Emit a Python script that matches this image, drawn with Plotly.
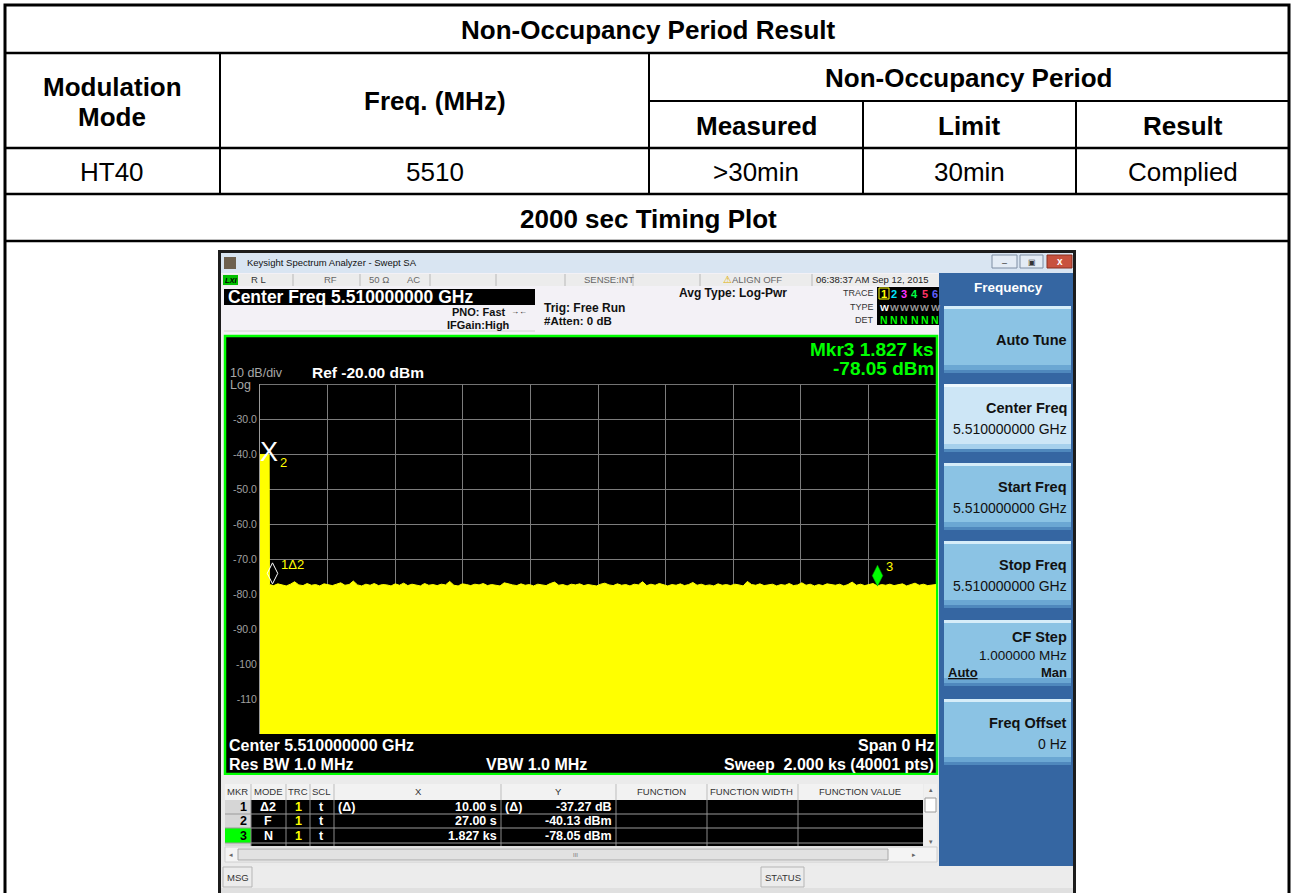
import numpy as np
import plotly.graph_objects as go

W, H = 1292, 893
FONT = "Liberation Sans, Arial, Helvetica, sans-serif"

# ---------------- data ----------------
table_title = "Non-Occupancy Period Result"
header_mode = ["Modulation", "Mode"]
header_freq = "Freq. (MHz)"
header_nop = "Non-Occupancy Period"
sub_headers = ["Measured", "Limit", "Result"]
row_values = ["HT40", "5510", ">30min", "30min", "Complied"]
plot_title = "2000 sec Timing Plot"

sweep_time_s = 2000
ref_level_dbm = -20
bottom_dbm = -120
y_tick_vals = [-30, -40, -50, -60, -70, -80, -90, -100, -110]
y_tick_text = ["-30.0", "-40.0", "-50.0", "-60.0", "-70.0", "-80.0", "-90.0", "-100", "-110"]

burst_t = [0, 27]
burst_y = [-40.13, -40.13]
noise_y = [
    -77.3, -77.6, -77.1, -77.5, -77.7, -77.2, -76.5, -77.4, -77.6, -77.0,
    -77.5, -77.3, -77.7, -77.1, -77.4, -77.6, -77.2, -76.8, -77.5, -77.3,
    -76.3, -77.4, -77.7, -77.2, -77.5, -77.0, -77.6, -77.3, -77.4, -77.7,
    -77.1, -77.5, -76.9, -77.6, -77.2, -77.4, -77.7, -77.0, -77.5, -77.3,
    -77.6, -77.2, -77.4, -76.4, -77.5, -77.7, -77.1, -77.3, -77.6, -77.2,
    -77.4, -77.0, -77.6, -77.3, -77.5, -77.7, -76.8, -77.2, -77.4, -77.6,
    -77.1, -77.5, -77.3, -77.7, -77.2, -77.4, -77.6, -77.0, -76.6, -77.5,
    -77.3, -77.7, -77.2, -77.4, -77.1, -77.6, -77.3, -77.5, -77.7, -77.2,
    -76.9, -77.4, -77.6, -77.1, -77.5, -77.3, -77.7, -77.2, -77.4, -76.5,
    -77.6, -77.2, -77.5, -77.0, -77.4, -77.7, -77.3, -77.5, -77.1, -77.6,
    -77.3, -76.7, -77.5, -77.2, -77.6, -77.4, -77.7, -77.1, -77.5, -77.3,
    -77.6, -77.2, -77.4, -77.7, -76.4, -77.3, -77.5, -77.1, -77.6, -77.4,
    -77.2, -77.7, -77.3, -77.5, -77.0, -77.6, -77.4, -76.8, -77.5, -77.2,
    -77.7, -77.3, -77.6, -77.1, -77.4, -77.5, -77.2, -77.7, -77.3, -76.6,
    -77.5, -77.2, -77.6, -77.4, -77.0, -77.7, -77.3, -77.5, -77.2, -77.6,
    -77.4, -77.1, -77.7, -77.3, -76.9, -77.5, -77.2, -77.6, -77.4, -77.3,
]
noise_t = np.linspace(28, sweep_time_s, len(noise_y))

mkr_id = ["1", "2", "3"]
mkr_mode = ["\u03942", "F", "N"]
mkr_t = [37.0, 27.0, 1827.0]
mkr_y = [-77.40, -40.13, -78.05]
mkr_x_text = ["10.00 s", "27.00 s", "1.827 ks"]
mkr_y_text = ["-37.27 dB", "-40.13 dBm", "-78.05 dBm"]

softkey_labels = ["Auto Tune", "Center Freq", "Start Freq", "Stop Freq", "CF Step", "Freq Offset"]
softkey_values = ["", "5.510000000 GHz", "5.510000000 GHz", "5.510000000 GHz", "1.000000 MHz", "0 Hz"]

trace_digits = ["1", "2", "3", "4", "5", "6"]

# ---------------- helpers ----------------
shapes = []
annotations = []


def X(p):
    return p / W


def Y(p):
    return 1 - p / H


def rect(x0, y0, x1, y1, fill=None, line=None, lw=1, layer="below"):
    shapes.append(dict(type="rect", xref="paper", yref="paper",
                       x0=X(x0), x1=X(x1), y0=Y(y1), y1=Y(y0),
                       fillcolor=fill if fill else "rgba(0,0,0,0)",
                       line=dict(color=line if line else "rgba(0,0,0,0)", width=lw if line else 0),
                       layer=layer))


def seg(x0, y0, x1, y1, color="black", lw=1, layer="below"):
    shapes.append(dict(type="line", xref="paper", yref="paper",
                       x0=X(x0), x1=X(x1), y0=Y(y0), y1=Y(y1),
                       line=dict(color=color, width=lw), layer=layer))


def txt(x, y, s, size, color="black", bold=False, anchor="left", family=FONT):
    annotations.append(dict(xref="paper", yref="paper", x=X(x), y=Y(y),
                            text=("<b>%s</b>" % s) if bold else s, showarrow=False,
                            xanchor=anchor, yanchor="middle", borderpad=0,
                            font=dict(size=size, color=color, family=family)))


# ---------------- report table ----------------
TS = 26
rect(5, 5, 1289, 900, line="black", lw=3)
seg(5, 53, 1289, 53, lw=2.5)
seg(649, 101, 1289, 101, lw=2)
seg(5, 148, 1289, 148, lw=2.5)
seg(5, 194, 1289, 194, lw=2.5)
seg(5, 241, 1289, 241, lw=2.5)
seg(220, 53, 220, 194, lw=2)
seg(649, 53, 649, 194, lw=2)
seg(863, 101, 863, 194, lw=2)
seg(1076, 101, 1076, 194, lw=2)

txt(648, 30, table_title, TS, bold=True, anchor="center")
txt(112, 87, header_mode[0], TS, bold=True, anchor="center")
txt(112, 117, header_mode[1], TS, bold=True, anchor="center")
txt(435, 101, header_freq, TS, bold=True, anchor="center")
txt(969, 78, header_nop, TS, bold=True, anchor="center")
for cx, s in zip([756, 969, 1183], sub_headers):
    txt(cx, 126, s, TS, bold=True, anchor="center")
for cx, s in zip([112, 435, 756, 969, 1183], row_values):
    txt(cx, 172, s, TS, anchor="center")
txt(648, 219, plot_title, TS, bold=True, anchor="center")

# ---------------- analyzer screenshot ----------------
rect(218, 250, 1076, 893, fill="#1c1c1c")
rect(221, 273, 1073, 893, fill="#f3f1f6")
# title bar
rect(221, 253, 1073, 273, fill="#d9e5f2")
rect(224, 257, 236, 269, fill="#6e6150")
txt(246, 263, "Keysight Spectrum Analyzer - Swept SA", 9.5, color="#111")
rect(992, 255, 1017, 268, fill="#e4ecf5", line="#7f8ea3")
txt(1004.5, 263, "\u2013", 9, color="#333", anchor="center")
rect(1020, 255, 1043, 268, fill="#e4ecf5", line="#7f8ea3")
txt(1031.5, 262, "\u25a3", 8, color="#333", anchor="center")
rect(1047, 255, 1072, 268, fill="#c8523e", line="#8a3020")
txt(1059.5, 261.5, "<b>x</b>", 10, color="white", anchor="center")

# status row
rect(221, 274, 1073, 286, fill="#ececec")
for sx in [293, 360, 430, 496, 565, 633, 700, 812, 940]:
    seg(sx, 274, sx, 286, color="#b8b8b8")
rect(223, 275, 238, 285, fill="#00c000")
txt(224, 280, "<i>LXI</i>", 7.5, color="black", bold=True)
txt(250, 279.5, "R L", 9.5, color="#333")
txt(323, 279.5, "RF", 9.5, color="#666")
txt(368, 279.5, "50 \u03a9", 9.5, color="#666")
txt(406, 279.5, "AC", 9.5, color="#666")
txt(583, 279.5, "SENSE:INT", 9.5, color="#666")
txt(722, 279.5, "<span style='color:#e0b000'>\u26a0</span>ALIGN OFF", 9.5, color="#666")
txt(815, 279.5, "06:38:37 AM Sep 12, 2015", 9.5, color="#222")

# info row
rect(224, 289, 535, 305, fill="black")
txt(227, 297, "Center Freq 5.510000000 GHz", 17.5, color="white", bold=True)
seg(224, 331, 535, 331, color="#d0d0d0")
txt(451, 312, "PNO: Fast", 11, color="#111", bold=True)
txt(510, 311, "\u2192\u2190", 8, color="#111")
txt(446, 325, "IFGain:High", 11, color="#111", bold=True)
txt(543, 308, "Trig: Free Run", 12, color="#111", bold=True)
txt(543, 321, "#Atten: 0 dB", 11.5, color="#111", bold=True)
txt(678, 293, "Avg Type: Log-Pwr", 12, color="#111", bold=True)
txt(875, 293, "TRACE", 9, color="#333", anchor="right")
txt(875, 307, "TYPE", 9, color="#333", anchor="right")
txt(875, 320, "DET", 9, color="#333", anchor="right")
rect(877, 287, 939, 325, fill="black")
dcols = ["#ffff00", "#00e5ff", "#ff33ff", "#00ff44", "#ff3366", "#6060ff"]
rect(879, 288, 889, 299, line="#ffff00", lw=1)
for i, (d, c) in enumerate(zip(trace_digits, dcols)):
    cx = 884 + i * 10.2
    txt(cx, 294, d, 11, color=c, bold=True, anchor="center")
    txt(cx, 307, "W", 9.5, color="white" if i == 0 else "#9a9a9a", bold=True, anchor="center")
    txt(cx, 320, "N", 10.5, color="#00ff00", bold=True, anchor="center")

# plot frame
rect(225, 336, 937, 774, fill="black", line="#00ff00", lw=2.5)
txt(229, 372.5, "10 dB/div", 12.5, color="#a8a8a8")
txt(229, 385, "Log", 12.5, color="#a8a8a8")
txt(311, 372, "Ref %.2f dBm" % ref_level_dbm, 15.5, color="white", bold=True)
txt(935, 349, "Mkr3 %s" % mkr_x_text[2], 19, color="#00ff00", bold=True, anchor="right")
txt(935, 368, mkr_y_text[2], 19, color="#00ff00", bold=True, anchor="right")
txt(228, 745, "Center 5.510000000 GHz", 16, color="white", bold=True)
txt(228, 764, "Res BW 1.0 MHz", 16, color="white", bold=True)
txt(485, 764, "VBW 1.0 MHz", 16, color="white", bold=True)
txt(935, 745, "Span 0 Hz", 16, color="white", bold=True, anchor="right")
txt(935, 764, "Sweep\u00a0\u00a02.000 ks (40001 pts)", 16, color="white", bold=True, anchor="right")

# right softkey panel
rect(939, 273, 1073, 866, fill="#3566a2")
txt(1008, 288, "Frequency", 13.5, color="white", bold=True, anchor="center")
btn_spans = [(306, 373), (384, 452), (463, 530), (541, 608), (620, 686), (699, 765)]
for k, ((b0, b1), lab, val) in enumerate(zip(btn_spans, softkey_labels, softkey_values)):
    sel = (k == 1)
    rect(944, b0, 1071, b1, fill="#cde6f6" if sel else "#8bc3e4")
    rect(944, b0, 1071, b0 + 3, fill="#eef8fd" if sel else "#d6edf9")
    rect(944, b1 - 8, 1071, b1, fill="#a6d0ec" if sel else "#6ba7d3")
    rect(944, b1 - 3, 1071, b1, fill="#4f88bd")
    if k == 0:
        txt(1068, 340, lab, 14.5, color="#111", bold=True, anchor="right")
    elif k == 4:
        txt(1068, 637, lab, 14.5, color="#111", bold=True, anchor="right")
        txt(1068, 655, val, 13.5, color="#111", anchor="right")
        txt(947, 672, "<u>Auto</u>", 13, color="#111", bold=True)
        txt(1068, 672, "Man", 13, color="#111", bold=True, anchor="right")
    else:
        txt(1068, b0 + 24, lab, 14.5, color="#111", bold=True, anchor="right")
        txt(1068, b0 + 45, val, 14, color="#111", anchor="right")

# marker table
rect(221, 775, 939, 866, fill="#ebebeb")
rect(225, 784, 923, 800, fill="#f2f2f2")
hdr = [("MKR", 237), ("MODE", 268), ("TRC", 298), ("SCL", 321), ("X", 418), ("Y", 558),
       ("FUNCTION", 661), ("FUNCTION WIDTH", 752), ("FUNCTION VALUE", 860)]
for s, cx in hdr:
    txt(cx, 791, s, 9.5, color="#333", anchor="center")
colx = [251, 286, 310, 334, 501, 616, 707, 798]
for cx in colx:
    seg(cx, 784, cx, 800, color="#bdbdbd")
rect(225, 800, 923, 846, fill="black")
rect(225, 800, 251, 846, fill="#d6d6d6")
rect(225, 828, 251, 843, fill="#00ff00")
for cx in colx:
    seg(cx, 800, cx, 846, color="#8a8a8a")
for ry in [814, 828, 843]:
    seg(225, ry, 923, ry, color="#9a9a9a")
row_y = [807, 821, 836]
for i in range(3):
    ry = row_y[i]
    txt(248, ry, mkr_id[i], 12.5, color="black", bold=True, anchor="right")
    txt(268, ry, mkr_mode[i], 12.5, color="white", bold=True, anchor="center")
    txt(298, ry, "1", 12.5, color="#ffff00", bold=True, anchor="center")
    txt(321, ry, "t", 12.5, color="white", bold=True, anchor="center")
    txt(498, ry, mkr_x_text[i], 12.5, color="white", bold=True, anchor="right")
    txt(613, ry, mkr_y_text[i], 12.5, color="white", bold=True, anchor="right")
txt(337, 807, "(\u0394)", 12.5, color="white", bold=True)
txt(504, 807, "(\u0394)", 12.5, color="white", bold=True)
# vertical scrollbar
rect(924, 784, 937, 846, fill="#f0f0f0")
rect(925, 798, 936, 812, fill="white", line="#9a9a9a")
txt(930.5, 789, "\u25b4", 7, color="#666", anchor="center")
txt(930.5, 841, "\u25be", 7, color="#666", anchor="center")
# horizontal scrollbar
rect(225, 847, 937, 862, fill="#f4f4f4", line="#d0d0d0")
rect(238, 849, 888, 860, fill="#e2e2e2", line="#a8a8a8")
txt(231, 854.5, "\u25c2", 7, color="#666", anchor="center")
txt(914, 854.5, "\u25b8", 7, color="#666", anchor="center")
txt(575, 854.5, "III", 6, color="#777", anchor="center")
# message bar
rect(221, 866, 1073, 888, fill="#ececec")
rect(223, 867, 252, 887, fill="#ececec", line="#b5b5b5")
txt(226, 877, "MSG", 9.5, color="#333")
rect(761, 867, 804, 887, fill="#ececec", line="#b5b5b5")
txt(764, 877, "STATUS", 9.5, color="#333")
rect(221, 888, 1073, 893, fill="#e0e0e0")

# ---------------- traces (plot area) ----------------
trace_t = list(burst_t) + list(noise_t)
trace_y = list(burst_y) + list(noise_y)

fig = go.Figure()
fig.add_trace(go.Scatter(x=[0, sweep_time_s], y=[bottom_dbm, bottom_dbm], mode="lines",
                         line=dict(width=0, color="#ffff00"), hoverinfo="skip", showlegend=False))
fig.add_trace(go.Scatter(x=trace_t, y=trace_y, mode="lines", fill="tonexty",
                         fillcolor="#ffff00", line=dict(color="#ffff00", width=1),
                         hoverinfo="skip", showlegend=False))

DIAMOND_LIFT_DB = 3.3
# marker 2 (X glyph at the point)
fig.add_trace(go.Scatter(x=[mkr_t[1]], y=[mkr_y[1]], mode="text", text=["X"],
                         textposition="middle center",
                         textfont=dict(size=27, color="white", family="Liberation Sans Narrow, Liberation Sans, Arial"),
                         hoverinfo="skip", showlegend=False))
# marker 1 (open diamond)
fig.add_trace(go.Scatter(x=[mkr_t[0]], y=[mkr_y[0] + DIAMOND_LIFT_DB], mode="markers",
                         marker=dict(symbol="diamond-tall-open", size=15, color="white",
                                     line=dict(color="white", width=1)),
                         hoverinfo="skip", showlegend=False))
# marker 3 (filled green diamond)
fig.add_trace(go.Scatter(x=[mkr_t[2]], y=[mkr_y[2] + DIAMOND_LIFT_DB], mode="markers",
                         marker=dict(symbol="diamond-tall", size=15, color="#00ff00",
                                     line=dict(color="#00aa00", width=0.5)),
                         hoverinfo="skip", showlegend=False))

annotations.append(dict(xref="x", yref="y", x=mkr_t[1], y=mkr_y[1], text="2", showarrow=False,
                        xanchor="left", yanchor="middle", xshift=9, yshift=-8,
                        font=dict(size=13, color="#ffff00", family=FONT)))
annotations.append(dict(xref="x", yref="y", x=mkr_t[0], y=mkr_y[0] + DIAMOND_LIFT_DB,
                        text="1\u03942", showarrow=False, xanchor="left", yanchor="middle",
                        xshift=6, yshift=9, font=dict(size=13, color="#ffff00", family=FONT)))
annotations.append(dict(xref="x", yref="y", x=mkr_t[2], y=mkr_y[2] + DIAMOND_LIFT_DB,
                        text="3", showarrow=False, xanchor="left", yanchor="middle",
                        xshift=6, yshift=9, font=dict(size=13, color="#ffff00", family=FONT)))

fig.update_layout(
    width=W, height=H, margin=dict(l=0, r=0, t=0, b=0),
    paper_bgcolor="white", plot_bgcolor="rgba(0,0,0,0)",
    showlegend=False, shapes=shapes, annotations=annotations,
    xaxis=dict(domain=[X(260), X(936)], range=[0, sweep_time_s], dtick=200, tick0=0,
               showgrid=True, gridcolor="#7c7c7c", gridwidth=1, zeroline=False,
               showticklabels=False, ticks="", showline=False, fixedrange=True),
    yaxis=dict(domain=[Y(734), Y(384)], range=[bottom_dbm, ref_level_dbm],
               tickmode="array", tickvals=y_tick_vals + [ref_level_dbm],
               ticktext=y_tick_text + [""],
               showgrid=True, gridcolor="#7c7c7c", gridwidth=1, zeroline=False,
               ticks="", showline=True, linecolor="#9a9a9a", linewidth=1, mirror=False,
               tickfont=dict(size=10.5, color="#a0a0a0", family=FONT), fixedrange=True),
)
fig.add_shape(type="line", xref="x", yref="y", x0=0, x1=sweep_time_s, y0=ref_level_dbm, y1=ref_level_dbm,
              line=dict(color="#9a9a9a", width=1.5), layer="below")

fig.write_html("out.html", config={"displayModeBar": False},
               post_script="document.body.style.margin='0';")
